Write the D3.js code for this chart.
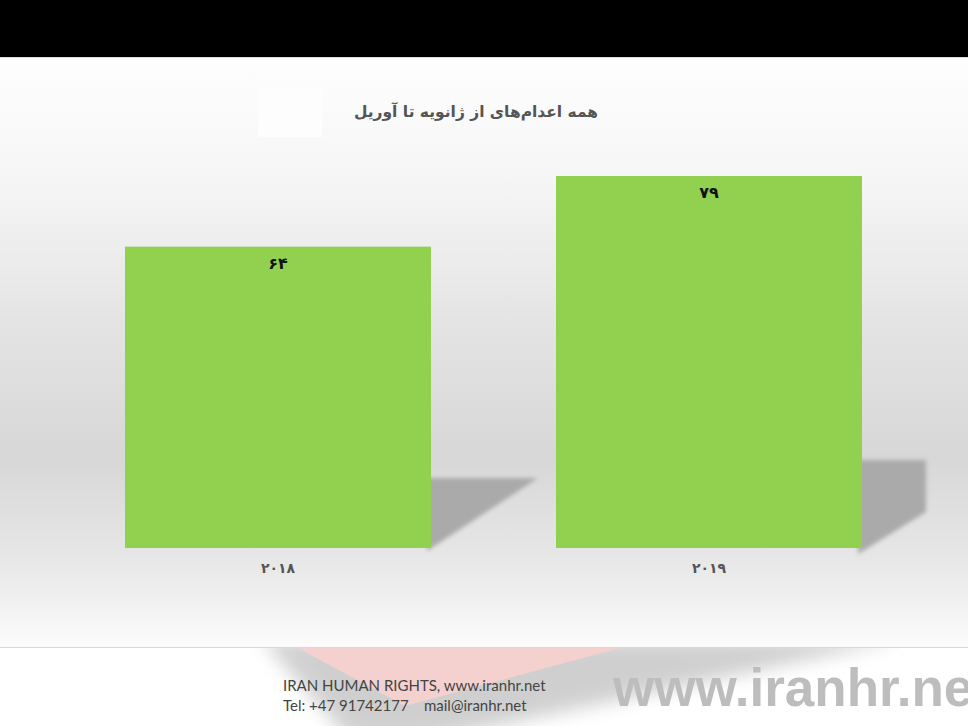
<!DOCTYPE html>
<html>
<head>
<meta charset="utf-8">
<script src="https://cdn.jsdelivr.net/npm/d3@7"></script>
<style>
  body { margin: 0; background: #fff; }
  svg { display: block; }
</style>
</head>
<body>
<div id="chart"></div>
<script>
// chart data
const categories = ["۲۰۱۸", "۲۰۱۹"];
const values = [64, 79];
const valueLabels = ["۶۴", "۷۹"];
const title = "همه اعدام‌های از ژانویه تا آوریل";
const footerLines = ["IRAN HUMAN RIGHTS, www.iranhr.net", "Tel: +47 91742177    mail@iranhr.net"];
const watermark = "www.iranhr.net";

const W = 968, H = 726;
const baseY = 548;

const svg = d3.select("#chart").append("svg")
    .attr("width", W)
    .attr("height", H);

const defs = svg.append("defs");

// background gradient of the slide area
const grad = defs.append("linearGradient")
    .attr("id", "bg")
    .attr("gradientUnits", "userSpaceOnUse")
    .attr("x1", 0).attr("y1", 57).attr("x2", 0).attr("y2", 647);
[[0, "#fefefe"], [0.2, "#f6f6f6"], [0.45, "#e4e4e4"], [0.68, "#d7d7d7"], [0.85, "#e7e7e7"], [1, "#fbfbfb"]]
    .forEach(([o, c]) => grad.append("stop").attr("offset", o).attr("stop-color", c));

defs.append("filter").attr("id", "blur")
    .attr("x", "-20%").attr("y", "-20%").attr("width", "140%").attr("height", "140%")
    .append("feGaussianBlur").attr("stdDeviation", 2);

defs.append("filter").attr("id", "blurBig")
    .attr("x", "-30%").attr("y", "-30%").attr("width", "160%").attr("height", "160%")
    .append("feGaussianBlur").attr("stdDeviation", 9);

defs.append("clipPath").attr("id", "footClip")
    .append("rect").attr("x", 0).attr("y", 648).attr("width", W).attr("height", H - 648);

// top black band
svg.append("rect").attr("x", 0).attr("y", 0).attr("width", W).attr("height", 57).attr("fill", "#000");
svg.append("rect").attr("x", 0).attr("y", 57).attr("width", W).attr("height", 590).attr("fill", "url(#bg)");
svg.append("line").attr("x1", 0).attr("x2", W).attr("y1", 57.5).attr("y2", 57.5).attr("stroke", "#dcdcdc");

// faint white box behind title start
svg.append("rect").attr("x", 258).attr("y", 84).attr("width", 64).attr("height", 53).attr("fill", "#fdfdfd");

// scales
const x = d3.scaleBand()
    .domain(categories)
    .range([125, 862])
    .paddingInner(0.29)
    .paddingOuter(0);

const y = d3.scaleLinear()
    .domain([0, 80])
    .range([baseY, baseY - 80 * 4.709]);

// bar shadows (decorative, to the right of each bar)
const shadowTop = [70, 88];
const shadowDepth = [107, 64];
const shadowG = svg.append("g").attr("filter", "url(#blur)");
categories.forEach((c, i) => {
    const x1 = x(c) + x.bandwidth();
    const top = baseY - shadowTop[i];
    const d = shadowDepth[i];
    let pts;
    if (i === 0) {
        pts = [[x1 - 4, top], [x1 + d, top], [x1 - 4, baseY + 3]];
    } else {
        pts = [[x1 - 4, top], [x1 + d, top], [x1 + d, top + 52], [x1 - 4, baseY + 6]];
    }
    shadowG.append("polygon")
        .attr("points", pts.map(p => p.join(",")).join(" "))
        .attr("fill", "#aaaaaa");
});

// bars
svg.append("g").selectAll("rect")
    .data(values)
    .join("rect")
    .attr("x", (d, i) => x(categories[i]))
    .attr("y", d => y(d))
    .attr("width", x.bandwidth())
    .attr("height", d => y(0) - y(d))
    .attr("fill", "#92d050");

// value labels
svg.append("g").selectAll("text")
    .data(values)
    .join("text")
    .attr("x", (d, i) => x(categories[i]) + x.bandwidth() / 2)
    .attr("y", d => y(d) + 22)
    .attr("text-anchor", "middle")
    .attr("font-family", "DejaVu Sans")
    .attr("font-weight", "bold")
    .attr("font-size", 16)
    .attr("fill", "#111")
    .text((d, i) => valueLabels[i]);

// category axis
const xAxis = svg.append("g")
    .attr("transform", `translate(0,${baseY})`)
    .call(d3.axisBottom(x).tickSize(0).tickPadding(15));
xAxis.select(".domain").remove();
xAxis.selectAll("text")
    .attr("font-family", "DejaVu Sans")
    .attr("font-weight", "bold")
    .attr("font-size", 14)
    .attr("fill", "#555");

// title
svg.append("text")
    .attr("x", 476)
    .attr("y", 117)
    .attr("text-anchor", "middle")
    .attr("direction", "rtl")
    .attr("font-family", "DejaVu Sans")
    .attr("font-weight", "bold")
    .attr("font-size", 15.5)
    .attr("fill", "#555")
    .text(title);

// footer
svg.append("rect").attr("x", 0).attr("y", 647).attr("width", W).attr("height", 79).attr("fill", "#fff");

const foot = svg.append("g").attr("clip-path", "url(#footClip)");
foot.append("polygon")
    .attr("points", "262,640 900,640 430,740 350,740")
    .attr("fill", "#bcbcbc")
    .attr("opacity", 0.7)
    .attr("filter", "url(#blurBig)");
foot.append("polygon")
    .attr("points", "298,648 620,648 405,706")
    .attr("fill", "#f4d0cf");
svg.append("line").attr("x1", 0).attr("x2", W).attr("y1", 647.5).attr("y2", 647.5).attr("stroke", "#d8d8d8");

svg.append("text")
    .attr("x", 613)
    .attr("y", 706)
    .attr("font-family", "Liberation Sans")
    .attr("font-weight", "bold")
    .attr("font-size", 53)
    .attr("fill", "#bdbdbd")
    .text(watermark);

svg.append("g").selectAll("text")
    .data(footerLines)
    .join("text")
    .attr("x", 283)
    .attr("y", (d, i) => 691 + i * 20)
    .attr("font-family", "Lato")
    .attr("font-size", 15)
    .attr("fill", "#444")
    .attr("xml:space", "preserve")
    .style("white-space", "pre")
    .text(d => d);
</script>
</body>
</html>
